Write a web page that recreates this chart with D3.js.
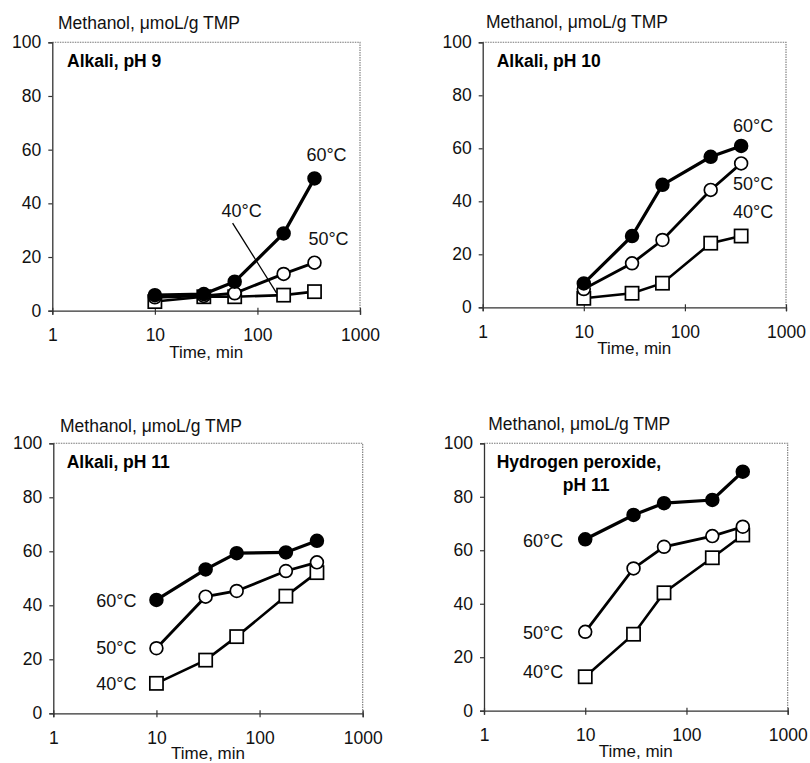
<!DOCTYPE html>
<html><head><meta charset="utf-8">
<script src="https://cdn.jsdelivr.net/npm/d3@7"></script>
<style>
html,body{margin:0;padding:0;background:#fff;}
svg{display:block;font-family:"Liberation Sans",Arial,sans-serif;}
</style></head>
<body>
<svg id="c" width="810" height="763"></svg>
<script>
// ---- data ----
const times = [10, 30, 60, 180, 360];
const temps = ["60°C", "50°C", "40°C"];
const xTicks = [1, 10, 100, 1000];
const yTicks = [0, 20, 40, 60, 80, 100];
const yTitle = "Methanol, \u03bcmoL/g TMP";
const xTitle = "Time, min";
const panelTitles = [["Alkali, pH 9"], ["Alkali, pH 10"], ["Alkali, pH 11"], ["Hydrogen peroxide,", "pH 11"]];

const pH9_60 = [5.8, 6.2, 10.8, 28.8, 49.3];
const pH9_50 = [5.0, 5.5, 6.5, 13.7, 17.9];
const pH9_40 = [3.4, 5.2, 5.2, 5.8, 7.1];

const pH10_60 = [9.0, 26.9, 46.2, 56.8, 60.9];
const pH10_50 = [6.9, 16.6, 25.4, 44.3, 54.3];
const pH10_40 = [3.4, 5.3, 9.1, 24.2, 26.9];

const pH11_60 = [42.0, 53.3, 59.3, 59.6, 63.9];
const pH11_50 = [24.1, 43.2, 45.3, 52.7, 55.9];
const pH11_40 = [11.1, 19.7, 28.4, 43.4, 52.1];

const hp_60 = [64.1, 73.2, 77.6, 78.8, 89.4];
const hp_50 = [29.5, 53.2, 61.3, 65.3, 68.8];
const hp_40 = [12.7, 28.6, 44.1, 57.2, 65.7];

const panelData = [
  [pH9_60, pH9_50, pH9_40],
  [pH10_60, pH10_50, pH10_40],
  [pH11_60, pH11_50, pH11_40],
  [hp_60, hp_50, hp_40]
];

// ---- layout ----
const boxes = [
  {x0: 52.3, x1: 360, y0: 42.3, y1: 310.7, tt: 47},
  {x0: 482.7, x1: 786, y0: 42.3, y1: 307.3, tt: 47},
  {x0: 53.3, x1: 362.7, y0: 443.3, y1: 713.3, tt: 45.5},
  {x0: 484, x1: 787.7, y0: 443.3, y1: 710.7, tt: 46.5}
];
const titlePos = [
  [{x: 67, y: 66.7}],
  [{x: 496.7, y: 66.7}],
  [{x: 66.7, y: 468.3}],
  [{x: 496.7, y: 468.3}, {x: 562.7, y: 490.7}]
];
const yTitlePos = [{x: 58, y: 29.3}, {x: 486, y: 28.3}, {x: 60, y: 431.7}, {x: 488.3, y: 430}];
const markers = ["filled", "open", "square"];
const lineW = [3.2, 2.8, 2.6];

const svg = d3.select("#c");
const ink = "#000";

boxes.forEach((b, p) => {
  const g = svg.append("g");
  const x = d3.scaleLog().domain([1, 1000]).range([b.x0, b.x1]);
  const y = d3.scaleLinear().domain([0, 100]).range([b.y1, b.y0]);

  // dotted frame (top & right)
  g.append("path")
    .attr("d", `M${b.x0},${b.y0}H${b.x1}V${b.y1}`)
    .attr("fill", "none").attr("stroke", "#777").attr("stroke-width", 1.1)
    .attr("stroke-dasharray", "1.5,1");

  // axes
  const xa = g.append("g").attr("transform", `translate(0,${b.y1})`)
    .call(d3.axisBottom(x).tickValues(xTicks).tickFormat(d3.format("d")).tickSize(4).tickPadding(14));
  const ya = g.append("g").attr("transform", `translate(${b.x0},0)`)
    .call(d3.axisLeft(y).tickValues(yTicks).tickSize(4).tickPadding(7));
  [xa, ya].forEach(a => {
    a.attr("font-family", null).attr("font-size", null);
    a.select(".domain").attr("stroke", "#333").attr("stroke-width", 1.3);
    a.selectAll(".tick line").attr("stroke", "#333").attr("stroke-width", 1.2);
    a.selectAll("text").attr("font-size", 17.5).attr("fill", "#111");
  });
  // x ticks cross the axis slightly
  xa.selectAll(".tick line").attr("y1", -3).attr("y2", 4);

  // axis titles
  g.append("text").attr("x", (b.x0 + b.x1) / 2).attr("y", b.y1 + b.tt)
    .attr("text-anchor", "middle").attr("font-size", 17).attr("fill", "#111").text(xTitle);
  g.append("text").attr("x", yTitlePos[p].x).attr("y", yTitlePos[p].y)
    .attr("font-size", 17.5).attr("fill", "#111").text(yTitle);

  // panel title
  panelTitles[p].forEach((t, i) => {
    g.append("text").attr("x", titlePos[p][i].x).attr("y", titlePos[p][i].y)
      .attr("font-size", 17.5).attr("font-weight", "bold").attr("fill", ink).text(t);
  });

  // series
  const series = panelData[p];
  const line = d3.line().x((d, i) => x(times[i])).y(d => y(d));
  [2, 1, 0].forEach(s => {
    g.append("path").datum(series[s]).attr("d", line)
      .attr("fill", "none").attr("stroke", ink).attr("stroke-width", lineW[s]);
  });
  [2, 1, 0].forEach(s => {
    const vals = series[s];
    if (markers[s] === "square") {
      g.selectAll(null).data(vals).enter().append("rect")
        .attr("x", (d, i) => x(times[i]) - 6.6).attr("y", d => y(d) - 6.6)
        .attr("width", 13.2).attr("height", 13.2)
        .attr("fill", "#fff").attr("stroke", ink).attr("stroke-width", 1.7);
    } else {
      g.selectAll(null).data(vals).enter().append("circle")
        .attr("cx", (d, i) => x(times[i])).attr("cy", d => y(d)).attr("r", 6.4)
        .attr("fill", markers[s] === "filled" ? ink : "#fff")
        .attr("stroke", ink).attr("stroke-width", 1.7);
    }
  });

  // series labels
  const lab = (txt, px, py, anchor) => g.append("text").attr("x", px).attr("y", py)
    .attr("text-anchor", anchor).attr("font-size", 18).attr("fill", "#111").text(txt);
  const last = times.length - 1;
  if (p === 0) {
    lab(temps[0], x(times[last]) + 12, y(series[0][last]) - 17, "middle");
    lab(temps[1], x(times[last]) + 14, y(series[1][last]) - 18, "middle");
    const px = x(times[3]), py = y(series[2][3]);
    lab(temps[2], px - 42, py - 78, "middle");
    g.append("line").attr("x1", px - 51).attr("y1", py - 72).attr("x2", px - 7).attr("y2", py - 2)
      .attr("stroke", ink).attr("stroke-width", 1.3);
  } else if (p === 1) {
    lab(temps[0], x(times[last]) + 12, y(series[0][last]) - 14, "middle");
    lab(temps[1], x(times[last]) + 12, y(series[1][last]) + 27, "middle");
    lab(temps[2], x(times[last]) + 12, y(series[2][last]) - 18, "middle");
  } else {
    const dx = p === 2 ? 20 : 22;
    const dys = p === 2 ? [7, 6, 7] : [8, 7, 1];
    [0, 1, 2].forEach(s => lab(temps[s], x(times[0]) - dx, y(series[s][0]) + dys[s], "end"));
  }
});
</script>
</body></html>
